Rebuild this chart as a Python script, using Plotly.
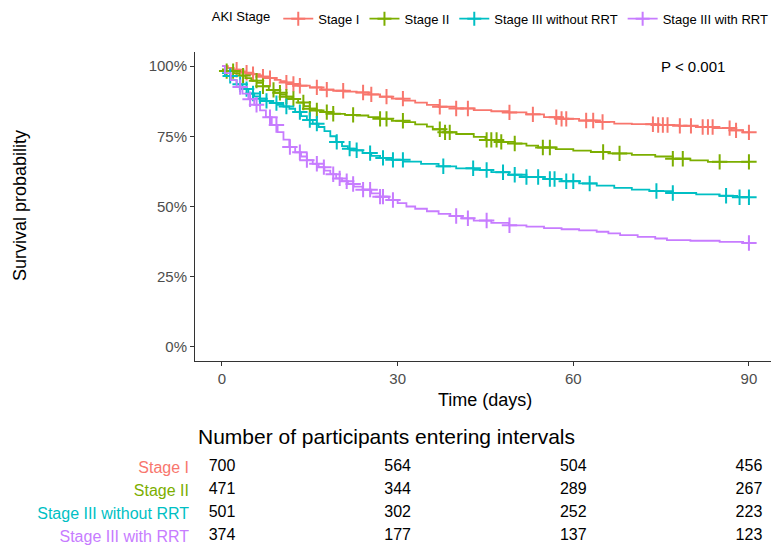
import numpy as np
import plotly.graph_objects as go

# Kaplan-Meier step estimates per AKI stage (days, survival)
stage_names = ["Stage I", "Stage II", "Stage III without RRT", "Stage III with RRT"]
colors = ["#F8766D", "#7CAE00", "#00BFC4", "#C77CFF"]

t_stage1 = [0, 1, 2, 3, 4, 5, 6, 7, 8, 9, 10, 11, 12, 13, 15, 17, 19, 21, 23, 25, 27, 29, 31, 33,
            35, 37, 40, 43, 46, 49, 52, 55, 58, 61, 64, 67, 70, 74, 78, 81, 84, 87, 89, 90]
s_stage1 = [1.0, 0.993, 0.987, 0.981, 0.976, 0.971, 0.967, 0.962, 0.957, 0.951, 0.946, 0.941,
            0.936, 0.930, 0.924, 0.916, 0.912, 0.909, 0.906, 0.899, 0.891, 0.884, 0.877, 0.870,
            0.862, 0.855, 0.849, 0.843, 0.839, 0.835, 0.828, 0.818, 0.812, 0.806, 0.801, 0.795,
            0.793, 0.790, 0.787, 0.783, 0.779, 0.771, 0.764, 0.764]

t_stage2 = [0, 0.3, 2, 3, 4, 5, 6, 7, 8, 9, 10, 11, 12, 13, 14, 15, 16, 17, 19, 21, 23, 25, 27,
            29, 31, 33, 35, 36, 38, 40, 43, 45, 47, 50, 52, 54, 57, 60, 63, 66, 70, 74, 77, 80,
            83, 90]
s_stage2 = [0.988, 0.982, 0.975, 0.966, 0.957, 0.948, 0.940, 0.928, 0.915, 0.905, 0.898, 0.891,
            0.883, 0.870, 0.857, 0.848, 0.842, 0.836, 0.830, 0.826, 0.824, 0.818, 0.812, 0.805,
            0.800, 0.792, 0.784, 0.775, 0.764, 0.758, 0.748, 0.737, 0.730, 0.724, 0.717, 0.710,
            0.704, 0.699, 0.694, 0.689, 0.684, 0.678, 0.670, 0.664, 0.659, 0.659]

t_stage3 = [0, 0.5, 1.5, 2.5, 3.5, 4.5, 5.5, 6.5, 7.5, 8.5, 9.5, 10.5, 11.5, 12.5, 13.5, 14.5,
            15.5, 16.5, 17.5, 18.5, 19.5, 20.5, 21.5, 22.5, 24, 25.5, 27, 29, 31, 34, 37, 40, 43,
            46, 49, 52, 55, 58, 61, 64, 67, 70, 73, 77, 81, 85, 88, 90]
s_stage3 = [0.975, 0.965, 0.950, 0.935, 0.918, 0.902, 0.892, 0.884, 0.876, 0.868, 0.862, 0.856,
            0.848, 0.836, 0.822, 0.808, 0.795, 0.783, 0.768, 0.750, 0.730, 0.715, 0.706, 0.700,
            0.690, 0.680, 0.673, 0.666, 0.660, 0.652, 0.643, 0.636, 0.630, 0.622, 0.613, 0.605,
            0.598, 0.590, 0.582, 0.574, 0.566, 0.560, 0.555, 0.548, 0.543, 0.538, 0.533, 0.533]

t_stage3r = [0, 0.5, 1.5, 2.5, 3.5, 4.5, 5.5, 6.5, 7.5, 8.5, 9.5, 10.5, 11.5, 12.5, 13.5, 14.5,
             15.5, 16.5, 17.5, 18.5, 19.5, 20.5, 21.5, 22.5, 24, 25.5, 27, 28.5, 30, 31.5, 33,
             35, 37, 39, 41, 43, 46, 49, 52, 55, 58, 61, 64, 66, 68, 71, 74, 76, 80, 85, 89, 90]
s_stage3r = [1.0, 0.975, 0.950, 0.925, 0.902, 0.882, 0.862, 0.842, 0.818, 0.790, 0.765, 0.738,
             0.712, 0.693, 0.678, 0.665, 0.652, 0.640, 0.628, 0.615, 0.600, 0.590, 0.580, 0.571,
             0.560, 0.547, 0.535, 0.523, 0.512, 0.500, 0.492, 0.483, 0.474, 0.466, 0.458, 0.450,
             0.442, 0.433, 0.428, 0.423, 0.419, 0.415, 0.410, 0.404, 0.398, 0.392, 0.386, 0.380,
             0.378, 0.374, 0.370, 0.370]

# Censoring times per stage
c_stage1 = [2.5, 4.2, 5.3, 7.0, 8.2, 11.0, 12.2, 13.3, 16.2, 17.9, 20.7, 24.1, 25.5, 28.1, 30.9,
            37.2, 40.0, 42.0, 49.1, 53.1, 57.1, 58.0, 58.8, 62.2, 63.4, 65.0, 73.6, 74.5, 75.3,
            76.1, 78.2, 80.1, 82.1, 83.0, 83.8, 86.7, 87.8, 90.0]
c_stage2 = [0.8, 1.9, 3.6, 5.9, 7.0, 8.8, 9.9, 11.0, 12.2, 13.9, 15.0, 16.2, 17.9, 19.0, 22.4,
            27.0, 28.1, 30.9, 37.2, 38.1, 38.9, 45.2, 46.0, 46.9, 47.7, 50.0, 54.8, 56.0, 65.1,
            67.9, 77.0, 78.7, 85.0, 90.0]
c_stage3 = [1.4, 3.1, 4.2, 5.3, 6.5, 7.6, 9.3, 11.0, 13.3, 15.0, 16.2, 19.6, 21.8, 23.0, 25.3,
            27.5, 29.2, 30.9, 37.8, 42.9, 45.2, 48.0, 50.0, 52.0, 54.0, 56.0, 56.8, 58.8, 60.0,
            62.8, 74.2, 77.0, 86.1, 88.4, 90.0]
c_stage3r = [3.1, 4.8, 5.9, 8.2, 9.3, 11.6, 13.3, 14.5, 16.2, 17.4, 19.0, 20.1, 21.3, 22.4, 24.1,
             25.3, 27.0, 27.5, 29.2, 40.0, 42.0, 45.2, 49.1, 90.0]

# Number at risk table
risk_times = [0, 30, 60, 90]
risk_stage1 = [700, 564, 504, 456]
risk_stage2 = [471, 344, 289, 267]
risk_stage3 = [501, 302, 252, 223]
risk_stage3r = [374, 177, 137, 123]

times = [t_stage1, t_stage2, t_stage3, t_stage3r]
survs = [s_stage1, s_stage2, s_stage3, s_stage3r]
censors = [c_stage1, c_stage2, c_stage3, c_stage3r]
risks = [risk_stage1, risk_stage2, risk_stage3, risk_stage3r]

FONT = "Liberation Sans, Arial, sans-serif"
NARROW = "Liberation Sans Narrow, Arial Narrow, Liberation Sans, sans-serif"


def step_value(t_arr, s_arr, t):
    idx = np.searchsorted(np.asarray(t_arr), t, side="right") - 1
    return np.asarray(s_arr)[np.clip(idx, 0, len(s_arr) - 1)]


fig = go.Figure()

for name, col, t, s, c in zip(stage_names, colors, times, survs, censors):
    fig.add_trace(go.Scatter(
        x=t, y=s, mode="lines", line=dict(color=col, width=1.8, shape="hv"),
        name=name, legendgroup=name, showlegend=False, hoverinfo="skip"))
    fig.add_trace(go.Scatter(
        x=c, y=step_value(t, s, np.asarray(c)), mode="markers",
        marker=dict(symbol="cross-thin", size=11, line=dict(color=col, width=2)),
        name=name, legendgroup=name, showlegend=False))
    # legend entry: line with a cross
    fig.add_trace(go.Scatter(
        x=[None], y=[None], mode="lines+markers", name=name,
        line=dict(color=col, width=1.8),
        marker=dict(symbol="cross-thin", size=10, line=dict(color=col, width=2)),
        legendgroup=name, showlegend=True))

# risk table rendered on its own axes, sharing the time scale
for name, col, r in zip(stage_names, colors, risks):
    fig.add_trace(go.Scatter(
        x=risk_times, y=[name] * len(risk_times), mode="text",
        text=[str(v) for v in r], textposition="middle center",
        textfont=dict(family=NARROW, size=16, color="black"),
        xaxis="x2", yaxis="y2", showlegend=False, hoverinfo="skip"))

xr = [-4.61, 93.77]
fig.update_layout(
    width=771, height=551,
    margin=dict(l=195, r=0, t=52, b=0, autoexpand=False),
    plot_bgcolor="white", paper_bgcolor="white",
    font=dict(family=FONT, color="black"),
    xaxis=dict(range=xr, tickvals=risk_times, ticks="outside", ticklen=4,
               tickcolor="#333333", showline=True, linecolor="#333333", linewidth=1,
               showgrid=False, zeroline=False, anchor="y",
               tickfont=dict(size=15, color="#4D4D4D")),
    yaxis=dict(range=[-0.05, 1.05], domain=[0.3808, 1.0],
               tickvals=[0, 0.25, 0.5, 0.75, 1.0],
               ticktext=["0%", "25%", "50%", "75%", "100%"],
               ticks="outside", ticklen=4, tickcolor="#333333",
               showline=True, linecolor="#333333", linewidth=1,
               showgrid=False, zeroline=False,
               tickfont=dict(size=15, color="#4D4D4D")),
    xaxis2=dict(range=xr, anchor="y2", visible=False),
    yaxis2=dict(domain=[0.007, 0.1914], type="category",
                categoryorder="array", categoryarray=stage_names,
                range=[3.5, -0.5], tickvals=stage_names,
                ticktext=['<span style="color:%s">%s</span>' % (c, n)
                          for c, n in zip(colors, stage_names)],
                ticks="", showline=False, showgrid=False, zeroline=False,
                ticklabelstandoff=5,
                tickfont=dict(family=NARROW, size=16)),
    legend=dict(orientation="h", xref="container", yref="container",
                x=0.272, y=0.966, xanchor="left", yanchor="middle",
                title=dict(text="AKI Stage", font=dict(size=13)),
                font=dict(size=13), itemwidth=30, bgcolor="rgba(0,0,0,0)"),
    annotations=[
        dict(text="P < 0.001", x=80.4, y=1.0, xref="x", yref="y", showarrow=False,
             font=dict(size=15, color="black"), xanchor="center", yanchor="middle"),
        dict(text="Survival probability", x=-0.304, y=0.693, xref="paper", yref="paper",
             textangle=-90, showarrow=False, font=dict(size=18, color="black"),
             xanchor="center", yanchor="middle"),
        dict(text="Time (days)", x=45, y=0.302, xref="x", yref="paper", showarrow=False,
             font=dict(size=18, color="black"), xanchor="center", yanchor="middle"),
        dict(text="Number of participants entering intervals", x=0.333, y=0.229,
             xref="paper", yref="paper", showarrow=False,
             font=dict(size=21, color="black"), xanchor="center", yanchor="middle"),
    ],
)

fig.write_html("out.html")
